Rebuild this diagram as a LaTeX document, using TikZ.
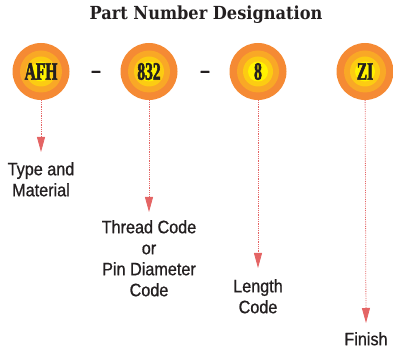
\documentclass[tikz,border=0pt]{standalone}
\usepackage{fontspec}
\usepackage{xcolor}
\usepackage{tikz}
\usetikzlibrary{
    positioning,
    arrows.meta
}
\setmainfont{Liberation Serif}
\newfontfamily\titlefont{DejaVu Serif Condensed}
\newfontfamily\labelfont[FakeStretch=0.9, FakeBold=0.8]{Liberation Sans}
\newfontfamily\codefont[FakeStretch=0.62, FakeBold=2]{Liberation Serif}
\definecolor{ringOuter}{RGB}{245, 138, 52}
\definecolor{ringMid}{RGB}{249, 168, 38}
\definecolor{ringInner}{RGB}{252, 204, 18}
\definecolor{ringCore}{RGB}{255, 242, 0}
\definecolor{arrowRed}{RGB}{228, 100, 100}
\definecolor{inkGray}{RGB}{35, 31, 32}

\tikzset{
    disc/.style={circle, minimum size=57pt, inner sep=0pt, fill=ringOuter,
        text=inkGray, font=\codefont\bfseries\fontsize{25}{25}\selectfont,
        path picture={
            \fill[ringMid] (path picture bounding box.center) circle (21pt);
            \fill[ringInner] (path picture bounding box.center) circle (15pt);
            \fill[ringCore] (path picture bounding box.center) circle (10pt);
        }},
    pointer/.style={->, arrowRed, line width=0.8pt, densely dotted},
    caption/.style={align=center, text=inkGray, inner sep=0pt,
        font=\labelfont\fontsize{18}{21}\selectfont},
    joiner/.style={text=inkGray, font=\labelfont\bfseries\fontsize{19}{19}\selectfont}
}

\begin{document}
\begin{tikzpicture}[x=1pt, y=-1pt, >={Triangle[width=8pt, length=15pt]}]
    \useasboundingbox (0,0) rectangle (393,352);
    \node[text=inkGray] (title) at (206,15)
        {\titlefont\bfseries\fontsize{18}{20}\selectfont Part Number Designation};

    \node[disc] (afh) at (41,71.5) {AFH};
    \node[disc] (thread) at (149,71.5) {832};
    \node[disc] (length) at (258,71.5) {8};
    \node[disc] (finish) at (365,71.5) {ZI};

    \node[joiner] (dashA) at (96,74) {–};
    \node[joiner] (dashB) at (205,74) {–};

    \coordinate (afh-tip) at (41,152);
    \coordinate (thread-tip) at (149,212);
    \coordinate (length-tip) at (258,268);
    \coordinate (finish-tip) at (366,323);

    \draw[pointer] (afh) -- (afh-tip);
    \draw[pointer] (thread) -- (thread-tip);
    \draw[pointer] (length) -- (length-tip);
    \draw[pointer] (finish) -- (finish-tip);

    \node[caption, below=10pt of afh-tip] (afh-text) {Type and\\Material};
    \node[caption, below=8pt of thread-tip] (thread-text) {Thread Code\\or\\Pin Diameter\\Code};
    \node[caption, below=11pt of length-tip] (length-text) {Length\\Code};
    \node[caption, below=9pt of finish-tip] (finish-text) {Finish};
\end{tikzpicture}
\end{document}
